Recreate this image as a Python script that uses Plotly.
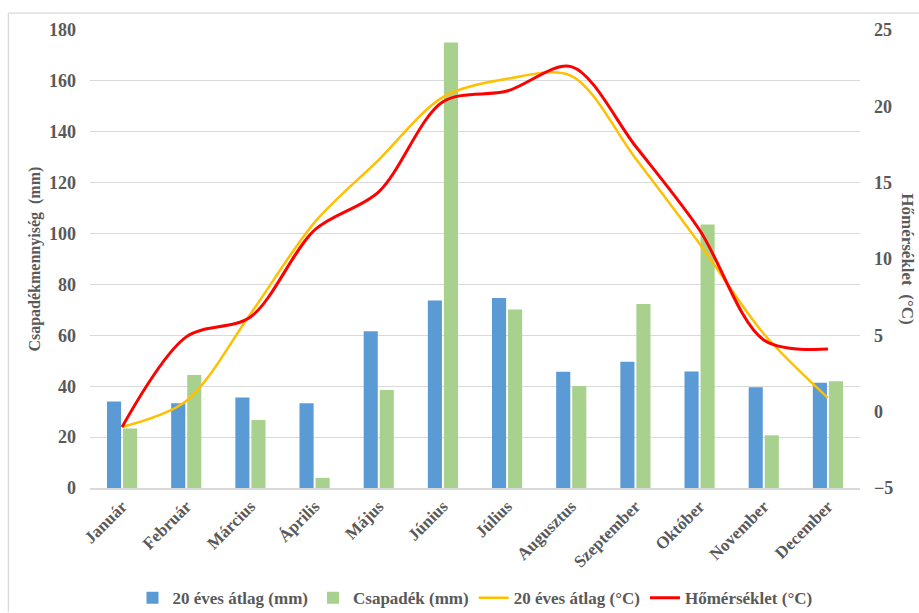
import plotly.graph_objects as go

months = ["Január", "Február", "Március", "Április", "Május", "Június",
          "Július", "Augusztus", "Szeptember", "Október", "November", "December"]

# Monthly precipitation (mm)
precip_avg20 = [34, 33.3, 35.6, 33.3, 61.6, 73.7, 74.7, 45.7, 49.6, 45.8, 39.6, 41.4]
precip_year = [23.4, 44.4, 26.7, 4.0, 38.5, 175.1, 70.2, 40.1, 72.3, 103.6, 20.7, 42.0]

# Monthly mean temperature (°C)
temp_avg20 = [-1.0, 0.7, 6.4, 12.4, 16.5, 20.6, 21.8, 22.0, 16.6, 11.0, 5.1, 0.9]
temp_year = [-1.0, 4.9, 6.2, 11.9, 14.4, 20.3, 21.0, 22.6, 17.4, 11.9, 4.7, 4.1]

grid_col = "#d9d9d9"
txt_col = "#595959"
serif = "Liberation Serif"


def bold(size):
    return dict(family=serif, size=size, color=txt_col, weight="bold")


fig = go.Figure()
fig.add_trace(go.Bar(x=months, y=precip_avg20, name="20 éves átlag (mm)",
                     marker=dict(color="#5b9bd5", line=dict(width=0))))
fig.add_trace(go.Bar(x=months, y=precip_year, name="Csapadék (mm)",
                     marker=dict(color="#a9d18e", line=dict(width=0))))
fig.add_trace(go.Scatter(x=months, y=temp_avg20, name="20 éves átlag (°C)", yaxis="y2",
                         mode="lines", line=dict(color="#ffc000", width=2.5,
                                                 shape="spline", smoothing=0.9)))
fig.add_trace(go.Scatter(x=months, y=temp_year, name="Hőmérséklet (°C)", yaxis="y2",
                         mode="lines", line=dict(color="#ff0000", width=3,
                                                 shape="spline", smoothing=0.9)))

fig.update_layout(
    width=919, height=613,
    margin=dict(l=90, r=59, t=30, b=125, autoexpand=False),
    paper_bgcolor="white", plot_bgcolor="white",
    barmode="group", bargap=0.5, bargroupgap=0.12,
    font=dict(family=serif, color=txt_col),
    xaxis=dict(tickangle=-45, tickfont=bold(17), automargin=False,
               showline=True, linecolor=grid_col, linewidth=1.5,
               ticks="", showgrid=False),
    yaxis=dict(range=[0, 180], dtick=20, showgrid=True, gridcolor=grid_col,
               gridwidth=1.3, zeroline=False, ticks="", automargin=False,
               tickfont=bold(18), ticklabelstandoff=13),
    yaxis2=dict(range=[-5, 25], dtick=5, overlaying="y", side="right",
                showgrid=False, zeroline=False, ticks="", automargin=False,
                tickfont=bold(18), ticklabelstandoff=13),
    legend=dict(orientation="h", x=0.5, xanchor="center",
                yref="container", y=0.024, yanchor="middle",
                font=bold(17), itemwidth=30, tracegroupgap=0, traceorder="normal"),
    annotations=[
        dict(text="Csapadékmennyiség  (mm)", xref="paper", yref="paper",
             x=-0.072, y=0.5, textangle=-90, showarrow=False,
             xanchor="center", yanchor="middle", font=bold(16)),
        dict(text="Hőmérséklet  (°C)", xref="paper", yref="paper",
             x=1.062, y=0.5, textangle=90, showarrow=False,
             xanchor="center", yanchor="middle", font=bold(17)),
    ],
    shapes=[
        dict(type="line", xref="paper", yref="paper", x0=-0.106, x1=1.09,
             y0=1.037, y1=1.037, line=dict(color=grid_col, width=1.3)),
        dict(type="line", xref="paper", yref="paper", x0=-0.106, x1=-0.106,
             y0=1.037, y1=-0.27, line=dict(color=grid_col, width=1.3)),
    ],
)

fig.write_html("out.html")
